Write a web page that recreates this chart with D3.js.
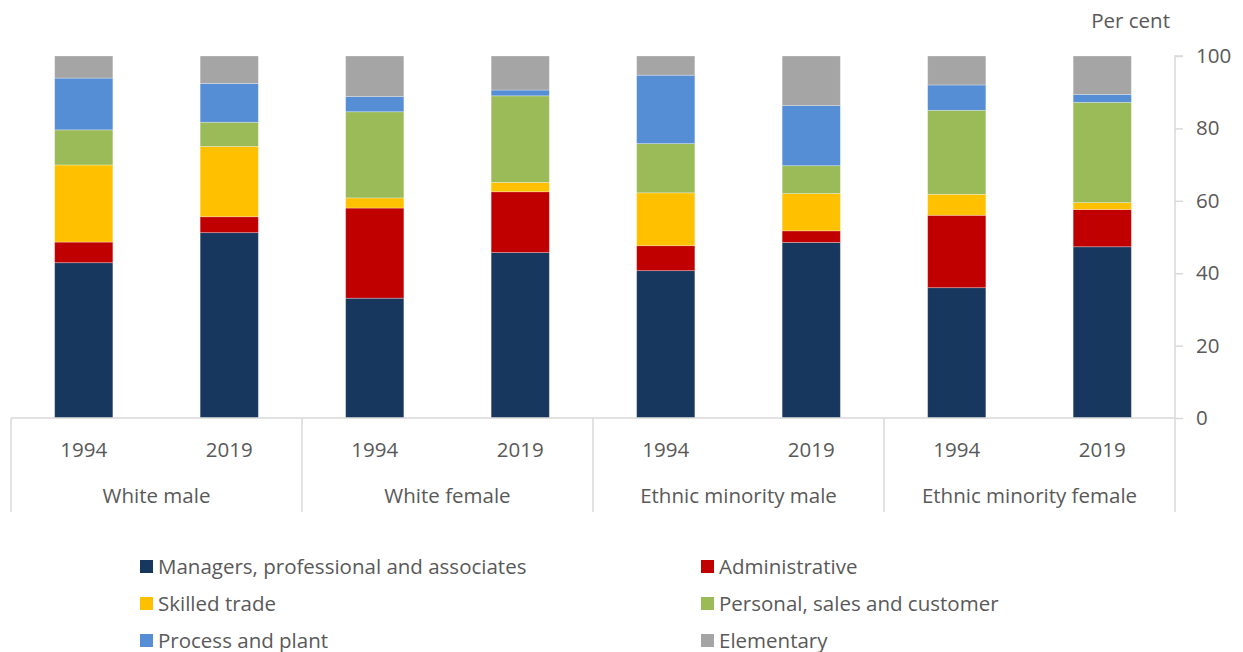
<!DOCTYPE html>
<html lang="en">

<head>
    <meta charset="utf-8" />
    <script src="https://cdnjs.cloudflare.com/ajax/libs/d3/7.8.5/d3.min.js"></script>
    <style type="text/css">
        body {
            margin: 0;
            background: #fff;
            overflow: hidden;
        }

        text {
            font-family: 'Open Sans', sans-serif;
            fill: #595959;
        }
    </style>
</head>

<body>
    <div class="svg-box"></div>
    <script type="text/javascript">
        // Groups and years along the bottom
        var groups = ['White male', 'White female', 'Ethnic minority male', 'Ethnic minority female'];
        var years = ['1994', '2019'];

        // Occupation series, bottom to top
        var occupations = ['Managers, professional and associates', 'Administrative', 'Skilled trade',
            'Personal, sales and customer', 'Process and plant', 'Elementary'];
        var colours = ['#17375E', '#C00000', '#FFC000', '#9BBB59', '#558ED5', '#A5A5A5'];

        // Per cent values per bar (WM94, WM19, WF94, WF19, EMM94, EMM19, EMF94, EMF19)
        var managers = [42.9, 51.2, 33.1, 45.7, 40.7, 48.5, 36.0, 47.3];
        var administrative = [5.7, 4.4, 24.9, 16.8, 6.9, 3.2, 20.0, 10.3];
        var skilled = [21.3, 19.4, 2.8, 2.6, 14.6, 10.3, 5.8, 1.9];
        var personal = [9.7, 6.7, 23.8, 23.9, 13.6, 7.7, 23.2, 27.7];
        var process = [14.3, 10.7, 4.2, 1.6, 18.9, 16.6, 7.0, 2.2];
        var elementary = [6.1, 7.6, 11.2, 9.4, 5.3, 13.7, 8.0, 10.6];

        var yTicks = [0, 20, 40, 60, 80, 100];

        var series = [managers, administrative, skilled, personal, process, elementary];
        var fontSize = '20.5px';

        var rows = [];
        groups.forEach(function (g, gi) {
            years.forEach(function (yr, yi) {
                var i = gi * years.length + yi;
                var row = { key: i, group: g, year: yr };
                occupations.forEach(function (o, oi) { row[o] = series[oi][i]; });
                rows.push(row);
            });
        });

        var width = 1243;
        var height = 652;
        var margins = { top: 56, left: 11, right: 68, bottom: 234 };
        var innerWidth = width - margins.left - margins.right;
        var innerHeight = height - margins.top - margins.bottom;

        var svg = d3.select('div.svg-box')
            .append('svg')
            .attr('width', width)
            .attr('height', height)
            .style('display', 'block')
            .append('g')
            .attr('transform', 'translate(' + margins.left + ',' + margins.top + ')');

        var x = d3.scaleBand()
            .domain(rows.map(function (d) { return d.key; }))
            .range([0, innerWidth])
            .paddingInner(0.6)
            .paddingOuter(0.3);

        var y = d3.scaleLinear()
            .domain([0, 100])
            .range([innerHeight, 0]);

        var colour = d3.scaleOrdinal().domain(occupations).range(colours);

        var stacked = d3.stack().keys(occupations)(rows);

        svg.append('g')
            .selectAll('g')
            .data(stacked)
            .enter()
            .append('g')
            .attr('fill', function (d) { return colour(d.key); })
            .selectAll('rect')
            .data(function (d) { return d; })
            .enter()
            .append('rect')
            .attr('x', function (d) { return x(d.data.key); })
            .attr('y', function (d) { return y(d[1]); })
            .attr('width', x.bandwidth())
            .attr('height', function (d) { return y(d[0]) - y(d[1]); })
            .attr('stroke', '#fff')
            .attr('stroke-opacity', 0.35)
            .attr('stroke-width', 0.8);

        // Right hand axis
        var yAxis = svg.append('g')
            .attr('transform', 'translate(' + innerWidth + ',0)')
            .call(d3.axisRight(y).tickValues(yTicks).tickSize(8).tickPadding(13));
        yAxis.select('.domain').attr('stroke', '#D9D9D9').attr('stroke-width', 1.5)
            .attr('d', 'M8,0H0V' + (innerHeight + 94));
        yAxis.selectAll('.tick line').attr('stroke', '#D9D9D9').attr('stroke-width', 1.5);
        yAxis.selectAll('.tick text').style('font-size', fontSize).attr('fill', '#595959')
            .style('font-family', "'Open Sans', sans-serif");

        svg.append('text')
            .attr('x', innerWidth - 5)
            .attr('y', -28)
            .attr('text-anchor', 'end')
            .style('font-size', fontSize)
            .text('Per cent');

        // Bottom category axis with group separators
        var bottom = svg.append('g').attr('transform', 'translate(0,' + innerHeight + ')');
        bottom.append('line')
            .attr('x1', 0).attr('x2', innerWidth)
            .attr('y1', 0).attr('y2', 0)
            .attr('stroke', '#D9D9D9').attr('stroke-width', 1.5);

        var groupWidth = innerWidth / groups.length;
        d3.range(groups.length).forEach(function (gi) {
            bottom.append('line')
                .attr('x1', gi * groupWidth).attr('x2', gi * groupWidth)
                .attr('y1', 0).attr('y2', 94)
                .attr('stroke', '#D9D9D9').attr('stroke-width', 1.5);
        });

        bottom.selectAll('text.year')
            .data(rows)
            .enter()
            .append('text')
            .attr('class', 'year')
            .attr('x', function (d) { return x(d.key) + x.bandwidth() / 2; })
            .attr('y', 39)
            .attr('text-anchor', 'middle')
            .style('font-size', fontSize)
            .text(function (d) { return d.year; });

        bottom.selectAll('text.group')
            .data(groups)
            .enter()
            .append('text')
            .attr('class', 'group')
            .attr('x', function (d, i) { return (i + 0.5) * groupWidth; })
            .attr('y', 85)
            .attr('text-anchor', 'middle')
            .style('font-size', fontSize)
            .text(function (d) { return d; });

        // Legend, two columns
        var legend = d3.select('svg').append('g');
        var items = legend.selectAll('g')
            .data(occupations)
            .enter()
            .append('g')
            .attr('transform', function (d, i) {
                return 'translate(' + (i % 2 === 0 ? 140 : 701) + ',' + (567 + Math.floor(i / 2) * 37) + ')';
            });
        items.append('rect')
            .attr('x', 0).attr('y', -7)
            .attr('width', 13).attr('height', 13)
            .attr('fill', function (d) { return colour(d); });
        items.append('text')
            .attr('x', 18)
            .attr('dy', '0.35em')
            .style('font-size', fontSize)
            .text(function (d) { return d; });
    </script>
</body>

</html>
